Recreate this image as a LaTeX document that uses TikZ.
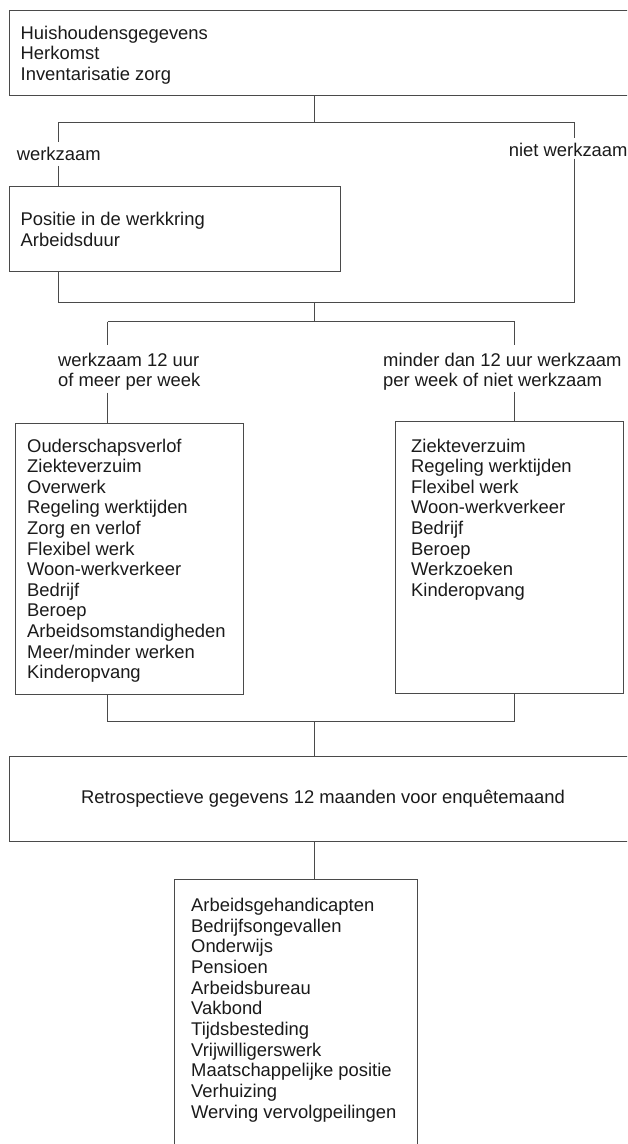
\documentclass[tikz,border=0pt]{standalone}
\usepackage{fontspec}
\setmainfont{Liberation Sans}
\usetikzlibrary{calc}
\definecolor{linecol}{HTML}{4A4A4A}
\definecolor{txtcol}{HTML}{1A1A1A}
\begin{document}
\begin{tikzpicture}[x=1pt,y=-1pt,
  boxnode/.style={draw=linecol, line width=1pt, inner sep=0pt, anchor=north west},
  txt/.style={inner sep=0pt, text=txtcol, font=\fontsize{18.4}{20.6}\selectfont, anchor=base west},
  conn/.style={draw=linecol, line width=1pt}
]
\useasboundingbox (0,0) rectangle (627,1144);
\clip (0,0) rectangle (627,1144);
% boxes
\node[boxnode, minimum width=640pt, minimum height=85.3pt] (b1) at (9.2,10) {};
\node[boxnode, minimum width=331.2pt, minimum height=85pt] (b2) at (9.2,185.7) {};
\node[boxnode, minimum width=228.4pt, minimum height=271.6pt] (b3) at (14.8,422.7) {};
\node[boxnode, minimum width=228.4pt, minimum height=272pt] (b4) at (394.8,420.7) {};
\node[boxnode, minimum width=640pt, minimum height=85.3pt] (b5) at (9.2,755.7) {};
\node[boxnode, minimum width=242.4pt, minimum height=300pt] (b6) at (174.4,878.7) {};
% box texts
\foreach \t [count=\i] in {Huishoudensgegevens,Herkomst,Inventarisatie zorg}
  \node[txt] (t1-\i) at (20.5,{39+20.5*(\i-1)}) {\t};
\foreach \t [count=\i] in {Positie in de werkkring,Arbeidsduur}
  \node[txt] (t2-\i) at (20.5,{225.5+20.5*(\i-1)}) {\t};
\foreach \t [count=\i] in {Ouderschapsverlof,Ziekteverzuim,Overwerk,Regeling werktijden,Zorg en verlof,Flexibel werk,Woon-werkverkeer,Bedrijf,Beroep,Arbeidsomstandigheden,Meer/minder werken,Kinderopvang}
  \node[txt] (t3-\i) at (27,{452+20.6*(\i-1)}) {\t};
\foreach \t [count=\i] in {Ziekteverzuim,Regeling werktijden,Flexibel werk,Woon-werkverkeer,Bedrijf,Beroep,Werkzoeken,Kinderopvang}
  \node[txt] (t4-\i) at (411,{452+20.6*(\i-1)}) {\t};
\node[txt, anchor=base] (t5) at (323,803) {Retrospectieve gegevens 12 maanden voor enquêtemaand};
\foreach \t [count=\i] in {Arbeidsgehandicapten,Bedrijfsongevallen,Onderwijs,Pensioen,Arbeidsbureau,Vakbond,Tijdsbesteding,Vrijwilligerswerk,Maatschappelijke positie,Verhuizing,Werving vervolgpeilingen}
  \node[txt] (t6-\i) at (191,{911.5+20.65*(\i-1)}) {\t};
% branch labels
\node[txt, anchor=base, text height=17.7pt, text depth=5.7pt] (lw) at (58.7,160) {werkzaam};
\node[txt, text height=17.7pt, text depth=2.3pt] (ln) at (508.7,156) {niet werkzaam};
\node[txt, text height=21pt] (l3a) at (58,366) {werkzaam 12 uur};
\node[txt, text depth=6.3pt] (l3b) at (58,386) {of meer per week};
\node[txt, text height=21pt] (l4a) at (383,366) {minder dan 12 uur werkzaam};
\node[txt, text depth=5.7pt] (l4b) at (383,386) {per week of niet werkzaam};
% junctions
\coordinate (j1) at (314.4,122.7);
\coordinate (j1l) at (58.4,122.7);
\coordinate (j1r) at (574.8,122.7);
\coordinate (j2) at (314.4,302.7);
\coordinate (j2l) at (58.4,302.7);
\coordinate (j2r) at (574.8,302.7);
\coordinate (j3) at (314.4,321.7);
\coordinate (j3l) at (107.6,321.7);
\coordinate (j3r) at (514.8,321.7);
\coordinate (j4) at (314.4,721.5);
\coordinate (j4l) at (107.6,721.5);
\coordinate (j4r) at (514.8,721.5);
% connectors
\draw[conn] (j1 |- b1.south) -- (j1);
\draw[conn] (j1l) -- (j1r);
\draw[conn] (j1l) -- (j1l |- lw.north);
\draw[conn] (j1l |- lw.south) -- (j1l |- b2.north);
\draw[conn] (j1r) -- (j1r |- ln.north);
\draw[conn] (j1r |- ln.south) -- (j2r);
\draw[conn] (j2l |- b2.south) -- (j2l) -- (j2r);
\draw[conn] (j2) -- (j3);
\draw[conn] (j3l) -- (j3r);
\draw[conn] (j3l) -- (j3l |- l3a.north);
\draw[conn] (j3l |- l3b.south) -- (j3l |- b3.north);
\draw[conn] (j3r) -- (j3r |- l4a.north);
\draw[conn] (j3r |- l4b.south) -- (j3r |- b4.north);
\draw[conn] (j4l |- b3.south) -- (j4l) -- (j4r) -- (j4r |- b4.south);
\draw[conn] (j4) -- (j4 |- b5.north);
\draw[conn] (j4 |- b5.south) -- (j4 |- b6.north);
\end{tikzpicture}
\end{document}
